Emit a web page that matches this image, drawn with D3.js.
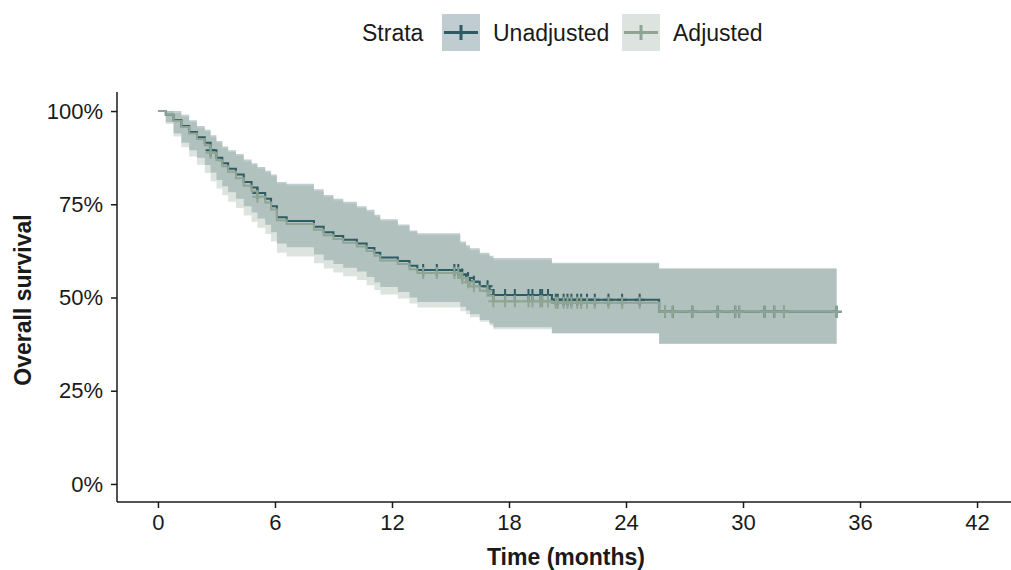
<!DOCTYPE html>
<html>
<head>
<meta charset="utf-8">
<script src="https://cdn.jsdelivr.net/npm/d3@7"></script>
<style>
  body { margin: 0; background: #fff; }
  text { font-family: "Liberation Sans", Arial, sans-serif; fill: #1a1a1a; }
</style>
</head>
<body>
<div id="chart"></div>
<script>
// step times (months) shared by both strata
const times = [0, 0.4, 0.8, 1.2, 1.6, 2.0, 2.4, 2.7, 3.0, 3.3, 3.6, 4.0, 4.4, 4.8, 5.1, 5.5, 5.8, 6.1, 6.6,
  8.0, 8.5, 9.0, 9.5, 10.2, 10.7, 11.1, 11.4, 12.3, 12.9, 13.3, 15.5, 15.8, 16.0, 16.5, 17.0, 17.2, 20.2, 25.7];
const endTime = 34.8;

const survUnadj = [1.0, 0.99, 0.976, 0.96, 0.944, 0.93, 0.915, 0.895, 0.875, 0.86, 0.845, 0.83, 0.81, 0.795, 0.78, 0.765, 0.745, 0.715, 0.705,
  0.69, 0.675, 0.665, 0.655, 0.645, 0.633, 0.62, 0.607, 0.598, 0.585, 0.574, 0.562, 0.552, 0.542, 0.53, 0.52, 0.507, 0.494, 0.462];
const upperUnadj = [1.0, 1.0, 1.0, 0.99, 0.975, 0.96, 0.95, 0.935, 0.92, 0.905, 0.895, 0.885, 0.87, 0.86, 0.85, 0.84, 0.83, 0.81, 0.805,
  0.79, 0.775, 0.765, 0.757, 0.745, 0.735, 0.722, 0.71, 0.696, 0.68, 0.672, 0.65, 0.64, 0.632, 0.62, 0.612, 0.606, 0.593, 0.578];
const lowerUnadj = [1.0, 0.97, 0.94, 0.915, 0.895, 0.875, 0.855, 0.835, 0.815, 0.798, 0.782, 0.765, 0.745, 0.728, 0.712, 0.695, 0.675, 0.645, 0.635,
  0.615, 0.6, 0.59, 0.58, 0.57, 0.555, 0.54, 0.528, 0.515, 0.5, 0.488, 0.475, 0.465, 0.455, 0.44, 0.43, 0.42, 0.405, 0.376];

const survAdj = [1.0, 0.99, 0.974, 0.957, 0.94, 0.925, 0.908, 0.888, 0.868, 0.852, 0.837, 0.82, 0.8, 0.785, 0.77, 0.755, 0.736, 0.707, 0.697,
  0.682, 0.667, 0.657, 0.647, 0.637, 0.625, 0.612, 0.599, 0.59, 0.576, 0.566, 0.552, 0.541, 0.53, 0.518, 0.505, 0.49, 0.486, 0.462];
const upperAdj = [1.0, 1.0, 0.995, 0.985, 0.97, 0.955, 0.945, 0.93, 0.915, 0.9, 0.89, 0.88, 0.865, 0.855, 0.845, 0.835, 0.825, 0.805, 0.8,
  0.785, 0.77, 0.76, 0.752, 0.74, 0.73, 0.717, 0.705, 0.691, 0.675, 0.667, 0.645, 0.635, 0.627, 0.615, 0.607, 0.6, 0.59, 0.578];
const lowerAdj = [1.0, 0.965, 0.932, 0.903, 0.878, 0.856, 0.834, 0.812, 0.792, 0.774, 0.757, 0.74, 0.72, 0.703, 0.687, 0.67, 0.65, 0.62, 0.61,
  0.592, 0.578, 0.567, 0.557, 0.547, 0.533, 0.52, 0.508, 0.497, 0.484, 0.473, 0.463, 0.455, 0.447, 0.435, 0.425, 0.415, 0.403, 0.376];

// censoring times (months)
const censorTimes = [2.7, 5.1, 13.6, 14.3, 15.2, 15.4, 15.6, 15.9, 16.2, 16.9, 17.2, 17.8, 18.3, 19.0, 19.2, 19.6, 19.7, 20.0,
  20.4, 20.5, 20.8, 21.0, 21.2, 21.5, 21.7, 22.0, 22.4, 23.1, 23.8, 24.7, 26.0, 26.4, 27.4, 28.7, 29.6, 29.8, 31.1, 31.6, 32.1, 34.8];

const xTicks = [0, 6, 12, 18, 24, 30, 36, 42];
const yTicks = [0, 0.25, 0.5, 0.75, 1];
const strataNames = ["Unadjusted", "Adjusted"];
const strataColors = ["#2e5b64", "#8fa594"];

const width = 1011, height = 570;

const svg = d3.select("#chart").append("svg")
  .attr("width", width)
  .attr("height", height);

const x = d3.scaleLinear().domain([-2.1, 44.1]).range([117, 1018]);
const y = d3.scaleLinear().domain([-0.05, 1.05]).range([502.6, 92.4]);

const strata = [
  { name: strataNames[0], color: strataColors[0], s: survUnadj, lo: lowerUnadj, hi: upperUnadj },
  { name: strataNames[1], color: strataColors[1], s: survAdj, lo: lowerAdj, hi: upperAdj }
];

// build step points, adding the final time
function pts(st) {
  const p = times.map((t, i) => ({ t: t, s: st.s[i], lo: st.lo[i], hi: st.hi[i] }));
  const last = p[p.length - 1];
  p.push({ t: endTime, s: last.s, lo: last.lo, hi: last.hi });
  return p;
}

const area = d3.area()
  .curve(d3.curveStepAfter)
  .x(d => x(d.t))
  .y0(d => y(d.lo))
  .y1(d => y(d.hi));

const line = d3.line()
  .curve(d3.curveStepAfter)
  .x(d => x(d.t))
  .y(d => y(d.s));

// confidence bands
svg.selectAll(".band")
  .data(strata)
  .join("path")
  .attr("class", "band")
  .attr("d", d => area(pts(d)))
  .attr("fill", d => d.color)
  .attr("fill-opacity", 0.3);

// survival curves + censor marks
strata.forEach(st => {
  svg.append("path")
    .attr("d", line(pts(st)))
    .attr("fill", "none")
    .attr("stroke", st.color)
    .attr("stroke-width", 2);

  const cens = censorTimes.map(t => {
    const i = d3.bisectRight(times, t) - 1;
    return { t: t, s: st.s[i] };
  });
  svg.append("g").selectAll("path")
    .data(cens)
    .join("path")
    .attr("d", d => {
      const cx = x(d.t), cy = y(d.s);
      return `M${cx - 5},${cy}H${cx + 5}M${cx},${cy - 6}V${cy + 6}`;
    })
    .attr("stroke", st.color)
    .attr("stroke-width", 2);
});

// axes
const xAxis = svg.append("g")
  .attr("transform", `translate(0,${502})`)
  .call(d3.axisBottom(x).tickValues(xTicks).tickSize(6).tickPadding(6));
xAxis.select(".domain").attr("d", `M117,0H1011`);

const yAxis = svg.append("g")
  .attr("transform", `translate(${117},0)`)
  .call(d3.axisLeft(y).tickValues(yTicks).tickFormat(d3.format(".0%")).tickSize(6).tickPadding(8));
yAxis.select(".domain").attr("d", `M0,92V502`);

svg.selectAll(".domain").attr("stroke", "#1a1a1a").attr("stroke-width", 1.5);
svg.selectAll(".tick line").attr("stroke", "#1a1a1a").attr("stroke-width", 1.5);
svg.selectAll(".tick text")
  .style("font-family", "'Liberation Sans', Arial, sans-serif")
  .style("font-size", "22px")
  .attr("fill", "#222");

// axis titles
svg.append("text")
  .attr("x", 566)
  .attr("y", 565)
  .attr("text-anchor", "middle")
  .style("font-size", "23px")
  .style("font-weight", "bold")
  .text("Time (months)");

svg.append("text")
  .attr("transform", "translate(31,300) rotate(-90)")
  .attr("text-anchor", "middle")
  .style("font-size", "23px")
  .style("font-weight", "bold")
  .text("Overall survival");

// legend
const legend = svg.append("g");
legend.append("text")
  .attr("x", 362).attr("y", 41)
  .style("font-size", "23px")
  .text("Strata");

const keyX = [442, 622];
strata.forEach((st, i) => {
  const kx = keyX[i];
  legend.append("rect")
    .attr("x", kx).attr("y", 14).attr("width", 38).attr("height", 37)
    .attr("fill", st.color).attr("fill-opacity", 0.3);
  legend.append("path")
    .attr("d", `M${kx + 2},32.5H${kx + 36}M${kx + 19},25V40`)
    .attr("stroke", st.color).attr("stroke-width", 3);
  legend.append("text")
    .attr("x", kx + 51).attr("y", 41)
    .style("font-size", "23px")
    .text(st.name);
});
</script>
</body>
</html>
